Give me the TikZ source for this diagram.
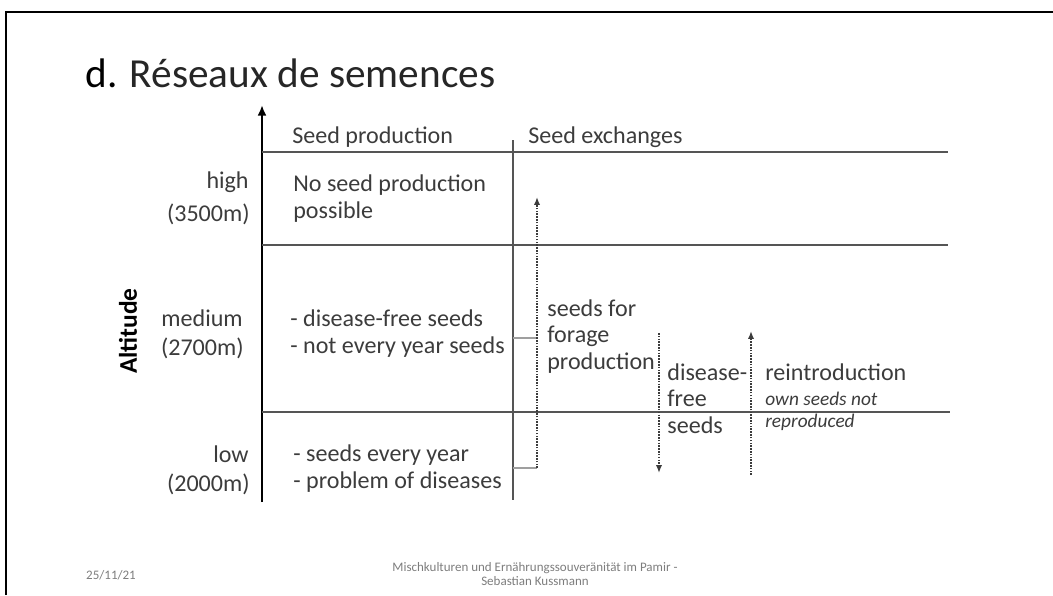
\documentclass[tikz,border=0pt]{standalone}
\usepackage{fontspec}
\setmainfont{Carlito}
\usetikzlibrary{arrows.meta}
\definecolor{textgray}{RGB}{60,60,60}
\definecolor{linegray}{RGB}{85,85,85}
\definecolor{footgray}{RGB}{125,125,125}

\begin{document}
\begin{tikzpicture}[x=0.02cm, y=-0.02cm,
    txt/.style={anchor=base west, inner sep=0pt, align=left, text=textgray,
        font=\fontsize{13.7}{15}\selectfont},
    lvl/.style={anchor=base east, inner sep=0pt, text=textgray,
        font=\fontsize{13.7}{15}\selectfont},
    note/.style={anchor=base west, inner sep=0pt, align=left, text=textgray,
        font=\fontsize{11}{12.5}\selectfont\itshape},
    foot/.style={inner sep=0pt, align=center, text=footgray,
        font=\fontsize{7.4}{8.2}\selectfont},
    rule/.style={linegray, line width=1pt},
    flow/.style={textgray, line width=0.9pt, dash pattern=on 0.9pt off 0.7pt,
        -{Latex[length=4.5pt,width=3.6pt]}},
    stub/.style={gray!75, line width=0.6pt}]
    \useasboundingbox (0,0) rectangle (1053,595);

    % slide frame
    \draw[line width=1.4pt] (6,595) |- (1053,12);

    % title
    \node[anchor=base west, inner sep=0pt, font=\fontsize{23.5}{27}\selectfont] (title) at (85,87)
        {d. \textcolor{black!85}{Réseaux de semences}};

    % altitude axis and table rules
    \coordinate (axisbot) at (262,502);
    \coordinate (axistop) at (262,105);
    \draw[line width=1.6pt, -{Latex[length=6pt,width=5pt]}] (axisbot) -- (axistop);
    \foreach \y/\xe in {152/948, 245/948, 412/950}
        \draw[rule] (262,\y) -- (\xe,\y);
    \draw[linegray, line width=0.8pt] (513,140) -- (513,500);

    \node[rotate=90, inner sep=0pt, text=black, font=\fontsize{14.5}{16}\selectfont\bfseries] (altitude) at (128,331) {Altitude};

    % column heads
    \node[txt] (prodhead) at (292,143) {Seed production};
    \node[txt] (exchhead) at (528,143) {Seed exchanges};

    % altitude levels
    \node[lvl] (high) at (249,188) {high};
    \node[lvl] (highalt) at (250,221) {(3500m)};
    \node[lvl] (medium) at (243,326) {medium};
    \node[lvl] (medalt) at (244,355) {(2700m)};
    \node[lvl] (low) at (249,462) {low};
    \node[lvl] (lowalt) at (250,491) {(2000m)};

    % seed production (base = last line)
    \node[txt] (prodhigh) at (293,218) {No seed production\\possible};
    \node[txt] (prodmed) at (290,353) {- disease-free seeds\\- not every year seeds};
    \node[txt] (prodlow) at (293,488) {- seeds every year\\- problem of diseases};

    % seed exchanges
    \coordinate (brtop) at (537,338);
    \coordinate (brbot) at (537,468);
    \coordinate (forageup) at (537,197);
    \draw[stub] (513,338) -- (brtop);
    \draw[stub] (513,468) -- (brbot);
    \draw[flow] (brbot) -- (forageup);
    \node[txt] (forage) at (547,369) {seeds for\\forage\\production};

    \coordinate (freetop) at (659,333);
    \coordinate (freebot) at (659,473);
    \draw[flow] (freetop) -- (freebot);
    \node[txt] (freeseeds) at (667,433) {disease-\\free\\seeds};

    \coordinate (reinbot) at (751,475);
    \coordinate (reintop) at (751,331);
    \draw[flow] (reinbot) -- (reintop);
    \node[txt] (reintro) at (765,380) {reintroduction};
    \node[note] (ownseeds) at (765,427) {own seeds not\\reproduced};

    % footer
    \node[foot] (date) at (111,575) {25/11/21};
    \node[foot] (credit) at (535,574) {Mischkulturen und Ernährungssouveränität im Pamir -\\Sebastian Kussmann};
\end{tikzpicture}
\end{document}
